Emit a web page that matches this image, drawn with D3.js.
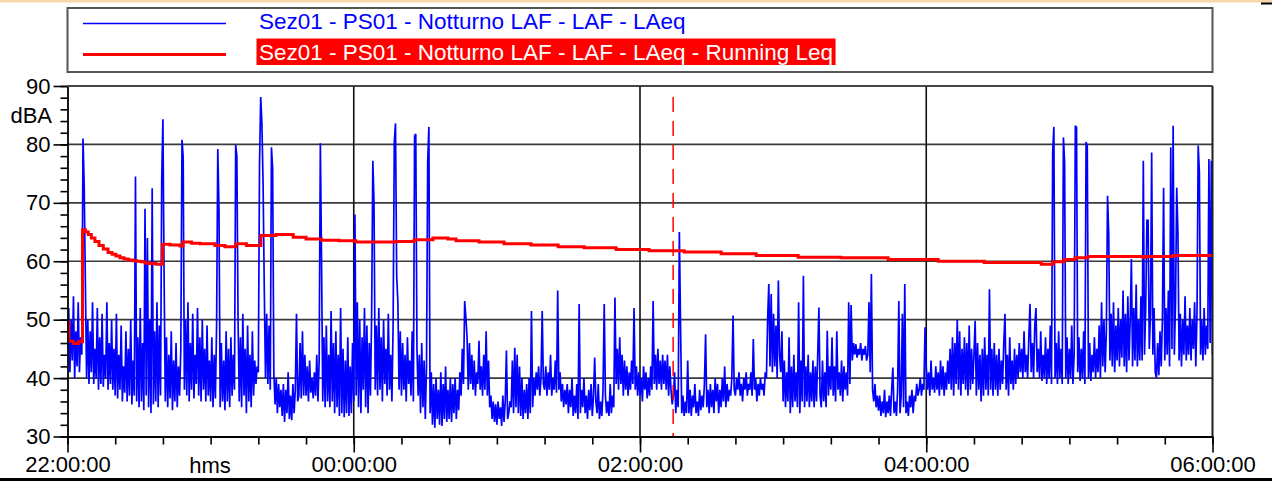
<!DOCTYPE html>
<html>
<head>
<meta charset="utf-8">
<script src="https://cdn.jsdelivr.net/npm/d3@7"></script>
<style>
  html, body { margin: 0; padding: 0; background: #fff; }
  svg { display: block; font-family: "Liberation Sans", Arial, Helvetica, sans-serif; }
</style>
</head>
<body>
<svg id="chart" width="1272" height="481"></svg>
<script>
// Series names shown in the legend
const seriesNames = [
  "Sez01 - PS01 - Notturno LAF - LAF - LAeq",
  "Sez01 - PS01 - Notturno LAF - LAF - LAeq - Running Leq"
];

// Measurement start and sampling step of the LAF series
const startTime = "2000-01-01T22:00:00Z";
const sampleSeconds = 30;

// LAF level (dBA), one reading every 30 s from 22:00:00 to 06:00:00
const lafValues = [
  45, 52, 41, 50, 43, 54, 40, 48, 42, 53, 41, 47, 44, 81, 73, 56, 40, 50, 39, 48,
  41, 53, 39, 45, 40, 52, 38, 47, 39, 51, 38.5, 44, 40, 53, 38, 46, 39, 50, 38, 45,
  37, 51, 36.5, 44, 38, 49, 36, 42, 37.5, 48, 36, 45, 37, 50, 35.5, 43, 37, 74.5, 36, 47,
  35, 52, 36, 46, 34.5, 69, 37, 64, 35, 50, 34, 72.5, 35.5, 48, 36, 53, 35, 49, 37, 74,
  84.3, 57, 36, 47, 35, 44, 36.5, 48, 34.5, 43, 36, 46, 35, 42, 37, 45, 80.8, 77.8, 38, 50,
  37, 53, 36, 46, 38, 51, 36.5, 44, 39, 52, 37, 47, 36, 50, 38, 45, 36, 49, 37, 43,
  36, 47, 35, 44, 36.5, 49, 79.2, 69, 35, 46, 36, 43, 34.5, 48, 36, 45, 35, 47, 37, 44,
  38, 79.9, 78, 50, 36, 47, 35, 51, 37, 45, 34, 49, 36, 44, 35, 48, 37, 43, 39, 42,
  41, 76.6, 88.1, 83.5, 73, 55, 40, 51, 39, 49, 38, 79.5, 75.8, 41, 35.5, 40, 34, 39, 35, 38,
  33.5, 39, 32.5, 38, 34, 41, 33, 37, 32.8, 39, 34, 38, 51, 36, 37, 46, 36.5, 48, 37, 44,
  37, 42, 36, 43, 37.5, 40, 36.5, 41, 37, 44, 36, 43, 80.2, 60, 36, 47, 35, 49, 36, 44,
  35, 51.5, 36, 46, 34, 48, 35, 44, 33.5, 52, 34, 45, 33.3, 43, 34, 47, 33.5, 42, 34, 46,
  36, 68, 37, 53, 35, 50, 34, 47, 38, 52, 35, 49, 34, 46, 37, 51, 77.2, 70, 38, 49,
  37, 52, 38, 47, 36, 50, 39, 45, 37, 51, 38, 44, 36, 49, 80.4, 83.6, 57.5, 53, 38, 48,
  37, 46, 38, 44, 36, 47, 39, 43, 37, 48, 36, 81.5, 81.8, 45, 37, 44, 34, 46, 35, 43,
  33, 42, 77, 83, 34, 41, 32, 39, 31.5, 40, 33, 38, 32, 41, 31.8, 39, 33, 42, 32.5, 38,
  33, 40, 32.5, 39, 34, 40, 33, 38, 34.5, 41, 37, 45, 39, 53.2, 50.4, 47, 38, 46, 39, 44,
  38, 43, 37, 41, 39, 46.4, 38, 42, 37, 44, 38, 48, 37, 43, 35, 37, 33, 36, 32.5, 35.5,
  32, 36, 33, 35, 31.8, 37, 32.5, 36, 44.7, 33, 34, 36, 35, 43, 34, 45.2, 35, 44, 34, 42,
  33.5, 40, 33, 38, 34, 39, 33, 40, 34, 51.5, 35, 40, 37, 41, 38, 42, 37, 40, 51.5, 39,
  38, 42, 37, 41, 38, 44, 37, 40, 38, 43, 37.5, 55, 38, 41, 36, 39, 35, 38, 35.5, 39,
  34, 38, 35, 40, 33.5, 37, 34, 39, 33, 52.7, 34, 38, 35, 40, 34, 37, 33, 38, 34.5, 39,
  33.5, 37, 43.5, 36, 34, 39, 33, 36, 33.5, 38, 52.7, 37, 34, 36, 33.5, 39, 34, 37, 35, 53.8,
  39, 45, 38, 47, 39, 44, 37, 43, 38, 42, 37, 41, 38, 43, 39, 52, 38, 42, 37, 41,
  37, 40, 36, 42, 38, 41, 36.5, 40, 37, 42, 38, 53.2, 39, 44, 38, 45, 39, 43, 38, 44,
  39, 43, 38, 44, 37, 42, 38, 35.5, 37, 41, 34, 38, 35, 65, 49, 34, 37, 33.5, 36, 34,
  43, 34, 38, 33.5, 37, 35, 39, 34, 36, 33.5, 38, 34.5, 37, 35, 39, 47.5, 35, 38, 34, 39,
  35, 38, 34, 40, 36, 39, 34, 38, 35, 40, 36, 42, 35, 39, 36, 38, 37, 40, 50.7, 38,
  37, 40, 38, 41, 37, 39, 36, 40, 38, 41, 37, 39, 38, 41, 37, 46.7, 38, 40, 36, 39,
  37, 40, 38, 39, 37, 41, 40, 50, 56.1, 42, 54.4, 41, 51, 42, 49, 40, 56.7, 44, 41, 48,
  36, 43, 35, 41, 36, 47, 34, 42, 35, 44, 36, 41, 35, 53, 34, 43, 36, 57.5, 35, 42,
  36, 44, 35, 41, 36, 43, 35, 42, 36, 44, 52.1, 37, 35, 43, 36, 41, 35, 48.1, 37, 42,
  38, 47, 37, 42, 36, 48, 38, 41, 37, 43, 36, 42, 38, 41, 37, 53, 39, 52.5, 43, 46,
  44, 45.8, 43.5, 45, 44, 46, 43, 45, 44, 45.5, 43, 44, 53, 41, 57.8, 38, 36, 39, 35, 37,
  34.4, 37, 33.5, 36, 34, 38, 33.3, 36, 34, 37, 33.5, 38, 41.8, 34, 36, 33.5, 38, 53.2, 34, 37,
  51, 35, 56.1, 34, 36, 33.5, 37, 35, 38, 34, 37, 36, 39, 37, 38, 40, 37, 39, 38, 48.7,
  42, 38, 41, 37, 43, 38, 40, 37.5, 42, 38, 41, 37, 43, 38, 42, 37, 41, 38, 43, 39,
  45, 38, 47, 37, 46, 39, 50, 38, 48, 37, 45, 39, 47, 38, 46, 37, 49, 38, 45, 39,
  44, 49.8, 37, 46, 38, 44, 36, 45, 37, 47, 38, 44, 37, 55.2, 38, 45, 37, 46, 38, 44,
  37, 45, 38, 43, 39, 46, 51, 38, 44, 37, 47, 39, 43, 38, 45, 39, 44, 40, 46, 41,
  45, 40, 48, 41, 44, 40, 47, 52.7, 41, 46, 40, 49, 52, 41, 45, 40, 48, 39.5, 44, 40,
  47, 39, 45, 40, 49, 39, 78.6, 83, 40, 46, 39, 48, 40, 45, 39, 81.2, 77, 40, 47, 39,
  45, 40, 49, 39, 44, 83.2, 82.9, 41, 47, 39.5, 45, 40, 48, 39, 80.4, 79.8, 40, 46, 39.5, 44,
  41, 47, 40, 45, 41, 49, 40, 53, 42, 50, 41, 48, 71.2, 64.6, 43, 51, 42, 53, 41, 49,
  43, 52, 42, 50, 43.5, 55, 42, 51, 41, 54, 43, 50, 60.4, 42, 52, 43, 56, 42, 50, 43,
  54, 43, 77.2, 44, 52, 67, 67, 45, 51, 78.6, 44, 52, 41, 40, 46, 40.5, 48, 42, 50, 72.6,
  43, 52, 44, 55, 42, 79.5, 45, 83.2, 44, 53, 72.6, 65, 43, 51, 42, 50, 44, 54, 43, 49,
  44, 52, 43, 50, 45, 53, 42, 51, 79.8, 75.2, 44, 50, 43, 52, 44, 49, 45, 77.5, 46, 77.2,
  44
];

// Running Leq (dBA): minutes after 22:00 at which the value changes, and the value held from there
const leqMinutes = [
  0, 0.6, 2.5, 4.5, 6.3, 7.5, 8.7, 10, 11.5, 13.2, 15, 17, 18.7, 20.3, 22,
  23.7, 25.5, 27.4, 29, 30.8, 32.5, 34.2, 37.1, 39.8, 43, 47.2, 48.4, 52, 55.6, 61.8,
  66, 70.6, 75, 81.1, 87.4, 94.6, 100, 106.5, 113.8, 120.9, 137.7, 145.3, 153.2, 159.5, 162.9,
  172.5, 183, 194.3, 205.7, 216.6, 230, 243.8, 258.5, 274, 288.7, 306.3, 324.3, 344, 365, 384.3,
  408.2, 413.2, 417.8, 422.4, 427.8, 450.9, 452.2, 463.4, 480
];
const leqValues = [
  49.5, 46.3, 45.9, 46.2, 65.4, 65.0, 64.6, 64.0, 63.4, 62.7, 62.1, 61.5, 61.2, 60.9, 60.6,
  60.4, 60.2, 60.1, 60.0, 59.9, 59.7, 59.6, 59.5, 62.9, 62.8, 62.6, 63.3, 63.1, 63.0, 62.7,
  62.5, 63.0, 62.7, 64.4, 64.6, 64.1, 63.8, 63.6, 63.5, 63.3, 63.4, 63.7, 64.0, 63.8, 63.5,
  63.3, 63.0, 62.8, 62.5, 62.3, 62.0, 61.8, 61.6, 61.3, 61.0, 60.7, 60.6, 60.3, 60.0, 59.8,
  59.5, 59.9, 60.3, 60.6, 60.8, 60.7, 60.8, 61.0, 61.1
];

// Cursor position (minutes after 22:00)
const cursorMinute = 253.9;

// Axis ticks and labels
const yTicks = [30, 40, 50, 60, 70, 80, 90];
const xTickLabels = ["22:00:00", "00:00:00", "02:00:00", "04:00:00", "06:00:00"];
const yUnit = "dBA";
const xUnit = "hms";

// ---------------------------------------------------------------------------
const W = 1272, H = 481;
const plot = { left: 67.5, right: 1212.5, top: 86, bottom: 436.5 };
const FONT = 22;

const svg = d3.select("#chart");
const t0 = new Date(startTime);
const atMinute = m => new Date(t0.getTime() + m * 60000);
const totalMinutes = (lafValues.length - 1) * sampleSeconds / 60;

// Tick label "HH:MM:SS" -> Date on the measurement night
function labelToDate(lbl) {
  const [h, m, s] = lbl.split(":").map(Number);
  let mins = h * 60 + m + s / 60 - 22 * 60;
  if (mins < 0) mins += 24 * 60;
  return atMinute(mins);
}

const x = d3.scaleUtc().domain([atMinute(0), atMinute(totalMinutes)]).range([plot.left, plot.right]);
const y = d3.scaleLinear().domain([d3.min(yTicks), d3.max(yTicks)]).range([plot.bottom, plot.top]);

// Page frame
svg.append("rect").attr("width", W).attr("height", H).attr("fill", "#fff");
svg.append("rect").attr("x", 0).attr("y", 0).attr("width", W).attr("height", 2.5).attr("fill", "#f8d7ab");
svg.append("rect").attr("x", 1261).attr("y", 2.5).attr("width", 11).attr("height", 2).attr("fill", "#000");
svg.append("rect").attr("x", 0).attr("y", 478).attr("width", W).attr("height", 3).attr("fill", "#000");

// Legend
const legend = svg.append("g");
legend.append("rect")
  .attr("x", 67.5).attr("y", 8).attr("width", 1145).attr("height", 64)
  .attr("fill", "none").attr("stroke", "#555").attr("stroke-width", 2);
legend.append("line")
  .attr("x1", 83).attr("x2", 226).attr("y1", 23.5).attr("y2", 23.5)
  .attr("stroke", "#0000ff").attr("stroke-width", 1.6);
legend.append("text")
  .attr("x", 259).attr("y", 29).attr("font-size", 22.5).attr("fill", "#0000ff")
  .text(seriesNames[0]);
legend.append("line")
  .attr("x1", 83).attr("x2", 226).attr("y1", 54.5).attr("y2", 54.5)
  .attr("stroke", "#ff0000").attr("stroke-width", 3);
const redText = legend.append("text")
  .attr("x", 259).attr("y", 60).attr("font-size", 22.5).attr("fill", "#fff")
  .text(seriesNames[1]);
const bb = redText.node().getBBox();
legend.insert("rect", "text:last-of-type")
  .attr("x", 256.5).attr("y", 38.5).attr("width", bb.width + 5).attr("height", 26.5)
  .attr("fill", "#ff0000");
redText.raise();

// Gridlines
const grid = svg.append("g").attr("stroke", "#3a3a3a").attr("stroke-width", 1.6);
grid.selectAll("line.h").data(yTicks.filter(v => v > d3.min(yTicks))).join("line")
  .attr("x1", plot.left).attr("x2", plot.right)
  .attr("y1", d => y(d)).attr("y2", d => y(d));
const xMajor = xTickLabels.map(labelToDate);
grid.selectAll("line.v").data(xMajor.slice(1)).join("line")
  .attr("stroke", "#111")
  .attr("x1", d => x(d)).attr("x2", d => x(d))
  .attr("y1", plot.top).attr("y2", plot.bottom);

// Clip to the plotting area
svg.append("clipPath").attr("id", "plotclip").append("rect")
  .attr("x", plot.left).attr("y", plot.top)
  .attr("width", plot.right - plot.left).attr("height", plot.bottom - plot.top);

// LAF trace
const lafLine = d3.line()
  .x((d, i) => x(atMinute(i * sampleSeconds / 60)))
  .y(d => y(d));
svg.append("path")
  .datum(lafValues)
  .attr("clip-path", "url(#plotclip)")
  .attr("fill", "none").attr("stroke", "#0000ff").attr("stroke-width", 1.7)
  .attr("stroke-linejoin", "miter").attr("stroke-miterlimit", 2)
  .attr("d", lafLine);

// Running Leq (stepped)
const leqLine = d3.line()
  .curve(d3.curveStepAfter)
  .x(d => x(atMinute(d[0])))
  .y(d => y(d[1]));
svg.append("path")
  .datum(leqMinutes.map((m, i) => [m, leqValues[i]]))
  .attr("clip-path", "url(#plotclip)")
  .attr("fill", "none").attr("stroke", "#ff0000").attr("stroke-width", 3)
  .attr("d", leqLine);

// Cursor
svg.append("line")
  .attr("x1", x(atMinute(cursorMinute))).attr("x2", x(atMinute(cursorMinute)))
  .attr("y1", 97).attr("y2", plot.bottom)
  .attr("stroke", "#ff0000").attr("stroke-width", 1.5).attr("stroke-dasharray", "15,9");

// Axes
function styleAxis(g) {
  g.attr("font-size", FONT).attr("font-family", null);
  g.selectAll(".tick line").attr("stroke", "#000").attr("stroke-width", 1.6);
  g.selectAll(".tick text").attr("fill", "#000");
}

const xMinor = d3.utcMinute.every(20).range(atMinute(0), atMinute(totalMinutes + 0.5));
svg.append("g").attr("transform", `translate(0,${plot.bottom})`)
  .call(d3.axisBottom(x).tickValues(xMinor).tickSize(8).tickFormat(""))
  .call(g => g.select(".domain").remove())
  .call(styleAxis);
svg.append("g").attr("transform", `translate(0,${plot.bottom})`)
  .call(d3.axisBottom(x).tickValues(xMajor).tickSize(16).tickSizeOuter(0).tickPadding(4)
    .tickFormat((d, i) => xTickLabels[i]))
  .call(styleAxis)
  .call(g => g.select(".domain").attr("stroke", "#000").attr("stroke-width", 1.8));

const yMinor = d3.range(d3.min(yTicks), d3.max(yTicks) + 0.1, 2);
svg.append("g").attr("transform", `translate(${plot.left},0)`)
  .call(d3.axisLeft(y).tickValues(yMinor).tickSize(7).tickFormat(""))
  .call(g => g.select(".domain").remove())
  .call(styleAxis);
svg.append("g").attr("transform", `translate(${plot.left},0)`)
  .call(d3.axisLeft(y).tickValues(yTicks).tickSize(14).tickSizeOuter(0).tickPadding(3))
  .call(styleAxis)
  .call(g => g.select(".domain").attr("stroke", "#000").attr("stroke-width", 1.8));

// Right and top border of the plot
svg.append("line").attr("x1", plot.right).attr("x2", plot.right)
  .attr("y1", plot.top).attr("y2", plot.bottom)
  .attr("stroke", "#222").attr("stroke-width", 1.6);
svg.append("line").attr("x1", plot.left).attr("x2", plot.right)
  .attr("y1", plot.top).attr("y2", plot.top)
  .attr("stroke", "#3a3a3a").attr("stroke-width", 1.6);

// Unit labels
svg.append("text").attr("x", 52).attr("y", 123).attr("text-anchor", "end")
  .attr("font-size", FONT).attr("fill", "#000").text(yUnit);
svg.append("text").attr("x", 210).attr("y", 473).attr("text-anchor", "middle")
  .attr("font-size", FONT).attr("fill", "#000").text(xUnit);
</script>
</body>
</html>
